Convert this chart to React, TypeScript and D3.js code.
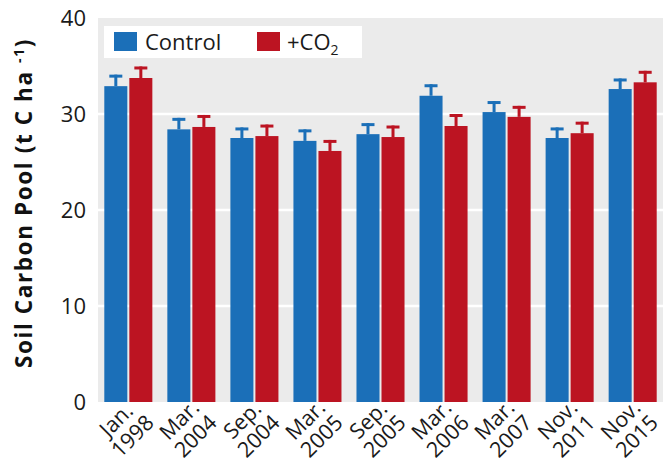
import * as d3 from 'd3';

const months = ['Jan.', 'Mar.', 'Sep.', 'Mar.', 'Sep.', 'Mar.', 'Mar.', 'Nov.', 'Nov.'];
const years = ['1998', '2004', '2004', '2005', '2005', '2006', '2007', '2011', '2015'];
const control = [32.9, 28.4, 27.5, 27.2, 27.9, 31.9, 30.2, 27.5, 32.6];
const controlErr = [1.2, 1.2, 1.1, 1.2, 1.15, 1.2, 1.15, 1.1, 1.1];
const co2 = [33.75, 28.65, 27.7, 26.15, 27.6, 28.75, 29.7, 28.0, 33.3];
const co2Err = [1.2, 1.25, 1.2, 1.15, 1.2, 1.25, 1.15, 1.2, 1.2];
const yTicks = [0, 10, 20, 30, 40];

const BLUE = '#1b6fb8';
const RED = '#bc1422';
const FONT = '"Open Sans", Lato, sans-serif';

export default function App() {
    const width = 664;
    const height = 462;
    const margin = { top: 18, right: 1, bottom: 60, left: 98 };
    const plotW = width - margin.left - margin.right;
    const plotH = height - margin.top - margin.bottom;

    const keys = years.map((y, i) => `${months[i]} ${y}`);
    const x = d3.scaleBand().domain(keys).range([0, plotW]).paddingInner(0.238).paddingOuter(0.1);
    const sub = d3.scaleBand().domain(['c', 'e']).range([0, x.bandwidth()]).paddingInner(0.08);
    const y = d3.scaleLinear().domain([0, 40]).range([plotH, 0]);

    const series = [
        { key: 'c', values: control, errs: controlErr, color: BLUE },
        { key: 'e', values: co2, errs: co2Err, color: RED },
    ];

    return (
        <svg width={width} height={height} style={{ position: 'absolute', left: 0, top: 0 }} fontFamily={FONT}>
            <g transform={`translate(${margin.left},${margin.top})`}>
                <rect width={plotW} height={plotH} fill="#ebebeb" />
                {yTicks.slice(1, -1).map((t) => (
                    <line key={t} x1={0} x2={plotW} y1={y(t)} y2={y(t)} stroke="#fff" strokeWidth={2.6} />
                ))}
                {series.map((s) =>
                    s.values.map((v, i) => {
                        const bx = (x(keys[i]) || 0) + (sub(s.key) || 0);
                        const bw = sub.bandwidth();
                        const cx = bx + bw / 2;
                        const top = y(v + s.errs[i]);
                        return (
                            <g key={s.key + i}>
                                <rect x={bx} y={y(v)} width={bw} height={plotH - y(v)} fill={s.color} />
                                <line x1={cx} x2={cx} y1={y(v)} y2={top} stroke={s.color} strokeWidth={3} />
                                <line x1={cx - 6.5} x2={cx + 6.5} y1={top + 1.5} y2={top + 1.5} stroke={s.color} strokeWidth={3} />
                            </g>
                        );
                    })
                )}
                {/* legend */}
                <g>
                    <rect x={6} y={8} width={258} height={32} fill="#fff" />
                    <rect x={16} y={14} width={23} height={19} fill={BLUE} />
                    <text x={47} y={32} fontSize={22} fill="#1a1a1a">Control</text>
                    <rect x={159} y={14} width={23} height={19} fill={RED} />
                    <text x={189} y={32} fontSize={22} fill="#1a1a1a">
                        +CO<tspan fontSize={14} dy={5}>2</tspan>
                    </text>
                </g>
                {/* y ticks */}
                {yTicks.map((t) => (
                    <text key={t} x={-12} y={y(t)} dy="0.36em" textAnchor="end" fontSize={22} fill="#1a1a1a">
                        {t}
                    </text>
                ))}
                {/* x labels */}
                {keys.map((k, i) => {
                    const cx = (x(k) || 0) + x.bandwidth() / 2 - 4;
                    return (
                        <text key={k} transform={`translate(${cx},${plotH + 26}) rotate(-45)`} textAnchor="middle" fontSize={21.5} fill="#1a1a1a">
                            <tspan x={0} y={-4}>{months[i]}</tspan>
                            <tspan x={0} y={19}>{years[i]}</tspan>
                        </text>
                    );
                })}
            </g>
            <text transform={`translate(32,203) rotate(-90)`} textAnchor="middle" fontSize={22.5} fontWeight="bold" letterSpacing={1.6} fill="#111">
                Soil Carbon Pool (t C ha <tspan fontSize={14} dy={-8}>-1</tspan><tspan dy={8}>)</tspan>
            </text>
        </svg>
    );
}
